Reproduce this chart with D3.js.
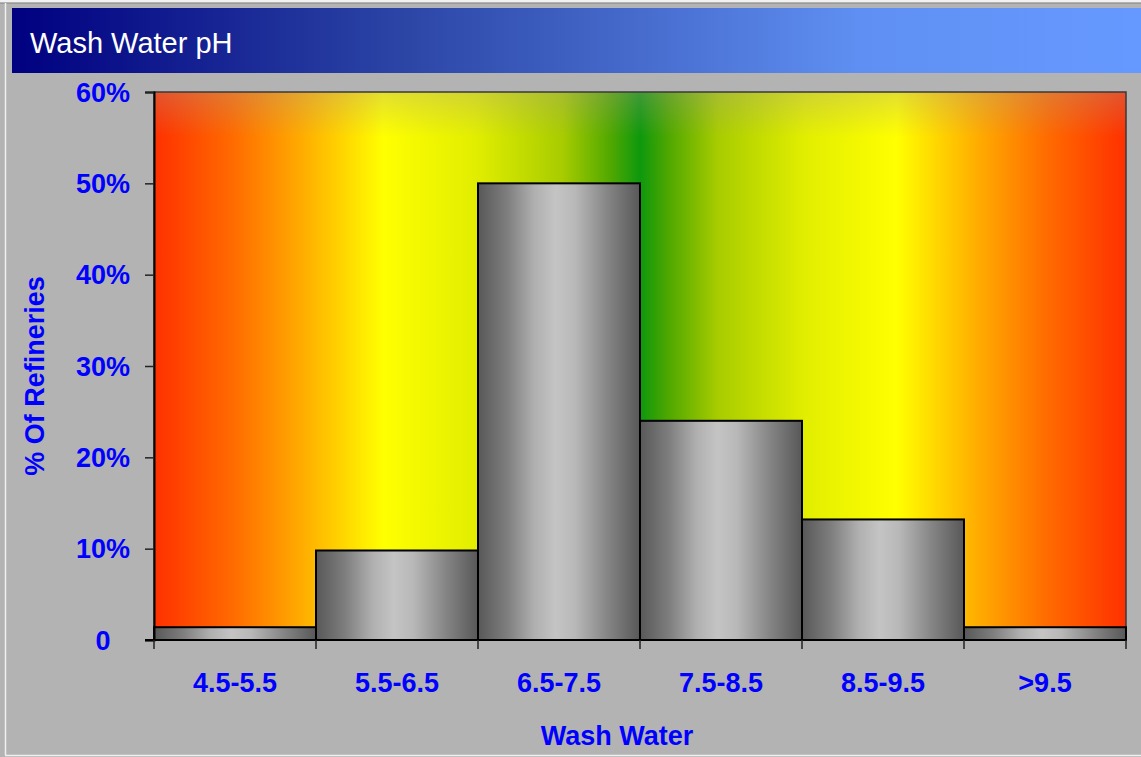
<!DOCTYPE html>
<html>
<head>
<meta charset="utf-8">
<script src="https://cdn.jsdelivr.net/npm/d3@7"></script>
<style>
  html, body { margin: 0; padding: 0; background: #b3b3b3; }
  svg { display: block; }
  text { font-family: "Liberation Sans", Arial, sans-serif; }
</style>
</head>
<body>
<svg id="chart" width="1141" height="757"></svg>
<script>
// pH ranges of the wash water and share of refineries in each range
const categories = ["4.5-5.5", "5.5-6.5", "6.5-7.5", "7.5-8.5", "8.5-9.5", ">9.5"];
const shares = [0.014, 0.098, 0.50, 0.24, 0.132, 0.014];
const yTicks = [0, 0.1, 0.2, 0.3, 0.4, 0.5, 0.6];

const title = "Wash Water pH";
const xTitle = "Wash Water";
const yTitle = "% Of Refineries";

const W = 1141, H = 757;
const plot = { left: 154, right: 1126, top: 92, bottom: 640 };
const blue = "#0000ff";

const svg = d3.select("#chart");
const defs = svg.append("defs");

// Frame
svg.append("rect").attr("x", 0).attr("y", 0).attr("width", W).attr("height", H).attr("fill", "#b3b3b3");
svg.append("line").attr("x1", 0).attr("x2", W).attr("y1", 1).attr("y2", 1).attr("stroke", "#f2f2f2").attr("stroke-width", 2);
svg.append("line").attr("x1", 0).attr("x2", W).attr("y1", 3.5).attr("y2", 3.5).attr("stroke", "#9a9a9a").attr("stroke-width", 1);
svg.append("line").attr("x1", 5.5).attr("x2", 5.5).attr("y1", 3).attr("y2", 755).attr("stroke", "#f0f0f0").attr("stroke-width", 1.5);
svg.append("line").attr("x1", 5).attr("x2", W).attr("y1", 755.5).attr("y2", 755.5).attr("stroke", "#f0f0f0").attr("stroke-width", 1.5);

// Title bar
const tg = defs.append("linearGradient").attr("id", "titleGrad").attr("x1", 0).attr("x2", 1).attr("y1", 0).attr("y2", 0);
tg.append("stop").attr("offset", 0).attr("stop-color", "#000080");
tg.append("stop").attr("offset", 0.35).attr("stop-color", "#2c46a6");
tg.append("stop").attr("offset", 0.75).attr("stop-color", "#5f8ff2");
tg.append("stop").attr("offset", 1).attr("stop-color", "#6699ff");
svg.append("rect").attr("x", 12).attr("y", 8).attr("width", W - 12).attr("height", 65).attr("fill", "url(#titleGrad)");
svg.append("text").attr("x", 30).attr("y", 53).attr("fill", "#ffffff")
  .attr("font-size", 29).text(title);

// Scales
const x = d3.scaleBand().domain(categories).range([plot.left, plot.right]).padding(0);
const y = d3.scaleLinear().domain([0, 0.6]).range([plot.bottom, plot.top]);

// Plot background: red - yellow - green - yellow - red band
const bg = defs.append("linearGradient").attr("id", "bgGrad").attr("x1", 0).attr("x2", 1).attr("y1", 0).attr("y2", 0);
[
  [0, "#ff3000"], [0.08, "#ff6a00"], [0.15, "#ffaa00"], [0.236, "#ffff00"],
  [0.33, "#e2ee00"], [0.42, "#a8cc00"], [0.47, "#50a800"], [0.5, "#0d980d"],
  [0.53, "#50a800"], [0.58, "#a8cc00"], [0.67, "#e2ee00"], [0.764, "#ffff00"],
  [0.85, "#ffaa00"], [0.92, "#ff6a00"], [1, "#ff3000"]
].forEach(([o, c]) => bg.append("stop").attr("offset", o).attr("stop-color", c));

const haze = defs.append("linearGradient").attr("id", "hazeGrad").attr("x1", 0).attr("x2", 0).attr("y1", 0).attr("y2", 1);
haze.append("stop").attr("offset", 0).attr("stop-color", "#a89c90").attr("stop-opacity", 0.32);
haze.append("stop").attr("offset", 1).attr("stop-color", "#a89c90").attr("stop-opacity", 0);

svg.append("rect").attr("x", plot.left).attr("y", plot.top)
  .attr("width", plot.right - plot.left).attr("height", plot.bottom - plot.top)
  .attr("fill", "url(#bgGrad)");
svg.append("rect").attr("x", plot.left).attr("y", plot.top)
  .attr("width", plot.right - plot.left).attr("height", 45)
  .attr("fill", "url(#hazeGrad)");

// Bar shading: dark edges, light centre
const barGrad = defs.append("linearGradient").attr("id", "barGrad").attr("x1", 0).attr("x2", 1).attr("y1", 0).attr("y2", 0);
[
  [0, "#585858"], [0.18, "#7e7e7e"], [0.35, "#b0b0b0"], [0.48, "#c4c4c4"],
  [0.6, "#b8b8b8"], [0.8, "#858585"], [1, "#585858"]
].forEach(([o, c]) => barGrad.append("stop").attr("offset", o).attr("stop-color", c));

// Plot border
svg.append("rect").attr("x", plot.left).attr("y", plot.top)
  .attr("width", plot.right - plot.left).attr("height", plot.bottom - plot.top)
  .attr("fill", "none").attr("stroke", "#3a3a3a").attr("stroke-width", 1.5);

// Bars
svg.append("g").selectAll("rect").data(categories).join("rect")
  .attr("x", d => x(d))
  .attr("y", (d, i) => y(shares[i]))
  .attr("width", x.bandwidth())
  .attr("height", (d, i) => y(0) - y(shares[i]))
  .attr("fill", "url(#barGrad)")
  .attr("stroke", "#000")
  .attr("stroke-width", 2);

// Y axis
const yAxis = d3.axisLeft(y).tickValues(yTicks).tickSize(9).tickFormat("");
const yg = svg.append("g").attr("transform", `translate(${plot.left},0)`).call(yAxis);
yg.select(".domain").attr("stroke", "#000").attr("stroke-width", 2);
yg.selectAll(".tick line").attr("stroke", "#222").attr("stroke-width", 1.5);

svg.append("g").selectAll("text").data(yTicks).join("text")
  .attr("x", 103)
  .attr("y", d => y(d))
  .attr("dy", "0.36em")
  .attr("text-anchor", "middle")
  .attr("fill", blue)
  .attr("font-weight", "bold")
  .attr("font-size", 27)
  .text(d => d === 0 ? "0" : d3.format(".0%")(d));

// X axis with ticks at category boundaries
const bounds = categories.map(c => x(c)).concat([x(categories[categories.length - 1]) + x.bandwidth()]);
svg.append("line").attr("x1", plot.left - 9).attr("x2", plot.right)
  .attr("y1", plot.bottom).attr("y2", plot.bottom)
  .attr("stroke", "#000").attr("stroke-width", 2);
svg.append("g").selectAll("line").data(bounds).join("line")
  .attr("x1", d => d).attr("x2", d => d)
  .attr("y1", plot.bottom).attr("y2", plot.bottom + 9)
  .attr("stroke", "#222").attr("stroke-width", 1.5);

svg.append("g").selectAll("text").data(categories).join("text")
  .attr("x", d => x(d) + x.bandwidth() / 2)
  .attr("y", 692)
  .attr("text-anchor", "middle")
  .attr("fill", blue)
  .attr("font-weight", "bold")
  .attr("font-size", 27)
  .text(d => d);

// Axis titles
svg.append("text").attr("x", 617).attr("y", 745)
  .attr("text-anchor", "middle").attr("fill", blue)
  .attr("font-weight", "bold").attr("font-size", 27).text(xTitle);

svg.append("text")
  .attr("transform", "translate(44,376) rotate(-90)")
  .attr("text-anchor", "middle").attr("fill", blue)
  .attr("font-weight", "bold").attr("font-size", 27).text(yTitle);
</script>
</body>
</html>
